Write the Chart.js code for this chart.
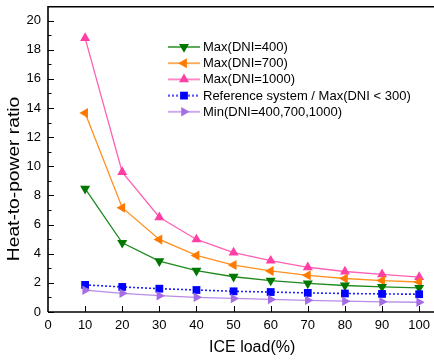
<!DOCTYPE html>
<html>
<head>
<meta charset="utf-8">
<script src="https://cdn.jsdelivr.net/npm/chart.js@4/dist/chart.umd.min.js"></script>
<style>
  html, body { margin: 0; padding: 0; background: #fff; }
  #wrap { width: 434px; height: 360px; }
</style>
</head>
<body>
<div id="wrap"><canvas id="ch" width="434" height="360"></canvas></div>
<script>
// ICE load (%) on x
const loads = [10, 20, 30, 40, 50, 60, 70, 80, 90, 100];
const max400 = [8.46, 4.75, 3.49, 2.84, 2.42, 2.16, 1.96, 1.82, 1.73, 1.66];
const max700 = [13.65, 7.16, 4.98, 3.88, 3.22, 2.82, 2.52, 2.3, 2.16, 2.06];
const max1000 = [18.8, 9.6, 6.5, 4.98, 4.08, 3.52, 3.07, 2.78, 2.58, 2.4];
const refSys = [1.86, 1.72, 1.6, 1.51, 1.42, 1.37, 1.31, 1.27, 1.24, 1.22];
const minAll = [1.5, 1.28, 1.12, 1.01, 0.93, 0.86, 0.8, 0.74, 0.7, 0.67];

const seriesNames = ['Max(DNI=400)', 'Max(DNI=700)', 'Max(DNI=1000)', 'Reference system / Max(DNI < 300)', 'Min(DNI=400,700,1000)'];
const xTicks = [0, 10, 20, 30, 40, 50, 60, 70, 80, 90, 100];
const yTicks = [0, 2, 4, 6, 8, 10, 12, 14, 16, 18, 20];
const xTitle = 'ICE load(%)';
const yTitle = 'Heat-to-power ratio';

const FONT = '"Liberation Sans", Arial, sans-serif';

function pts(vals) { return vals.map((v, i) => ({ x: loads[i], y: v })); }

function ds(label, vals, line, mark, style, rot, r, dash) {
  return {
    label, data: pts(vals),
    borderColor: line, backgroundColor: mark,
    borderWidth: dash ? 1.6 : 1.3, borderDash: dash || [],
    pointStyle: style, pointRotation: rot, pointRadius: r, pointHoverRadius: r,
    pointBackgroundColor: mark, pointBorderColor: mark, pointBorderWidth: 0,
    tension: 0, fill: false, clip: false
  };
}

const datasets = [
  ds(seriesNames[4], minAll, '#b98be9', '#a46de4', 'triangle', 90, 5.5),
  ds(seriesNames[3], refSys, '#2020ff', '#0000ff', 'rect', 0, 5.5, [2, 2]),
  ds(seriesNames[0], max400, '#1e8a1e', '#007800', 'triangle', 180, 5.8),
  ds(seriesNames[1], max700, '#ff9020', '#ff7a00', 'triangle', 270, 5.8),
  ds(seriesNames[2], max1000, '#ff60b4', '#ff3fa6', 'triangle', 0, 5.8),
];
// legend order as in the picture
const legendOrder = [2, 3, 4, 1, 0];

const decor = {
  id: 'decor',
  afterDraw(chart) {
    const { ctx, chartArea: a, scales: { x, y } } = chart;
    ctx.save();
    ctx.strokeStyle = '#000';
    // axes + top frame line
    ctx.lineWidth = 1.6;
    ctx.beginPath();
    ctx.moveTo(a.left, a.top + 0.8); ctx.lineTo(a.right, a.top + 0.8);
    ctx.moveTo(a.left, a.top); ctx.lineTo(a.left, a.bottom);
    ctx.moveTo(a.left, a.bottom); ctx.lineTo(a.right, a.bottom);
    ctx.stroke();
    // inward ticks
    ctx.lineWidth = 1;
    ctx.beginPath();
    for (let v = 0; v <= 20; v++) {
      const py = Math.round(y.getPixelForValue(v)) + 0.5;
      const len = v % 2 === 0 ? 6 : 3.5;
      ctx.moveTo(a.left, py); ctx.lineTo(a.left + len, py);
    }
    xTicks.forEach(v => {
      if (v === 0) return;
      const px = Math.round(x.getPixelForValue(v)) + 0.5;
      ctx.moveTo(px, a.bottom); ctx.lineTo(px, a.bottom - 6);
    });
    ctx.stroke();
    // titles
    ctx.fillStyle = '#000';
    ctx.font = '16px ' + FONT;
    ctx.textAlign = 'center';
    ctx.textBaseline = 'middle';
    ctx.fillText(xTitle, x.getPixelForValue(55), 348);
    ctx.save();
    ctx.translate(15, 179);
    ctx.rotate(-Math.PI / 2);
    ctx.scale(1.2, 1);
    ctx.fillText(yTitle, 0, 0);
    ctx.restore();
    // legend
    ctx.font = '13px ' + FONT;
    ctx.textAlign = 'left';
    legendOrder.forEach((di, k) => {
      const d = chart.data.datasets[di];
      const ly = 47 + k * 16.2;
      ctx.save();
      ctx.strokeStyle = d.borderColor;
      ctx.globalAlpha = 0.75;
      ctx.lineWidth = d.borderWidth + 0.6;
      ctx.setLineDash(d.borderDash);
      ctx.beginPath(); ctx.moveTo(168, ly); ctx.lineTo(200, ly); ctx.stroke();
      ctx.setLineDash([]);
      ctx.globalAlpha = 1;
      ctx.fillStyle = d.pointBackgroundColor;
      ctx.strokeStyle = d.pointBackgroundColor;
      ctx.lineWidth = 0;
      Chart.helpers.drawPoint(ctx, { pointStyle: d.pointStyle, rotation: d.pointRotation, radius: d.pointRadius, borderWidth: 0 }, 184, ly);
      ctx.restore();
      ctx.fillStyle = '#000';
      ctx.fillText(d.label, 203, ly + 0.5);
    });
    ctx.restore();
  }
};

new Chart(document.getElementById('ch'), {
  type: 'line',
  data: { datasets },
  options: {
    responsive: false,
    animation: false,
    layout: { autoPadding: false, padding: { top: 6, right: 0, left: 0, bottom: 0 } },
    plugins: { legend: { display: false }, tooltip: { enabled: false } },
    scales: {
      x: {
        type: 'linear', min: 0, max: 104,
        afterBuildTicks: s => { s.ticks = xTicks.map(v => ({ value: v })); },
        afterFit: s => { s.height = 48; s.paddingLeft = 0; s.paddingRight = 0; },
        grid: { display: false, drawTicks: false },
        border: { display: false },
        ticks: { color: '#000', font: { family: FONT, size: 13 }, padding: 6, maxRotation: 0, autoSkip: false }
      },
      y: {
        type: 'linear', min: 0, max: 21,
        afterBuildTicks: s => { s.ticks = yTicks.map(v => ({ value: v })); },
        afterFit: s => { s.width = 48; s.paddingTop = 0; s.paddingBottom = 0; },
        grid: { display: false, drawTicks: false },
        border: { display: false },
        ticks: { color: '#000', font: { family: FONT, size: 13 }, padding: 7, autoSkip: false }
      }
    }
  },
  plugins: [decor]
});
</script>
</body>
</html>
